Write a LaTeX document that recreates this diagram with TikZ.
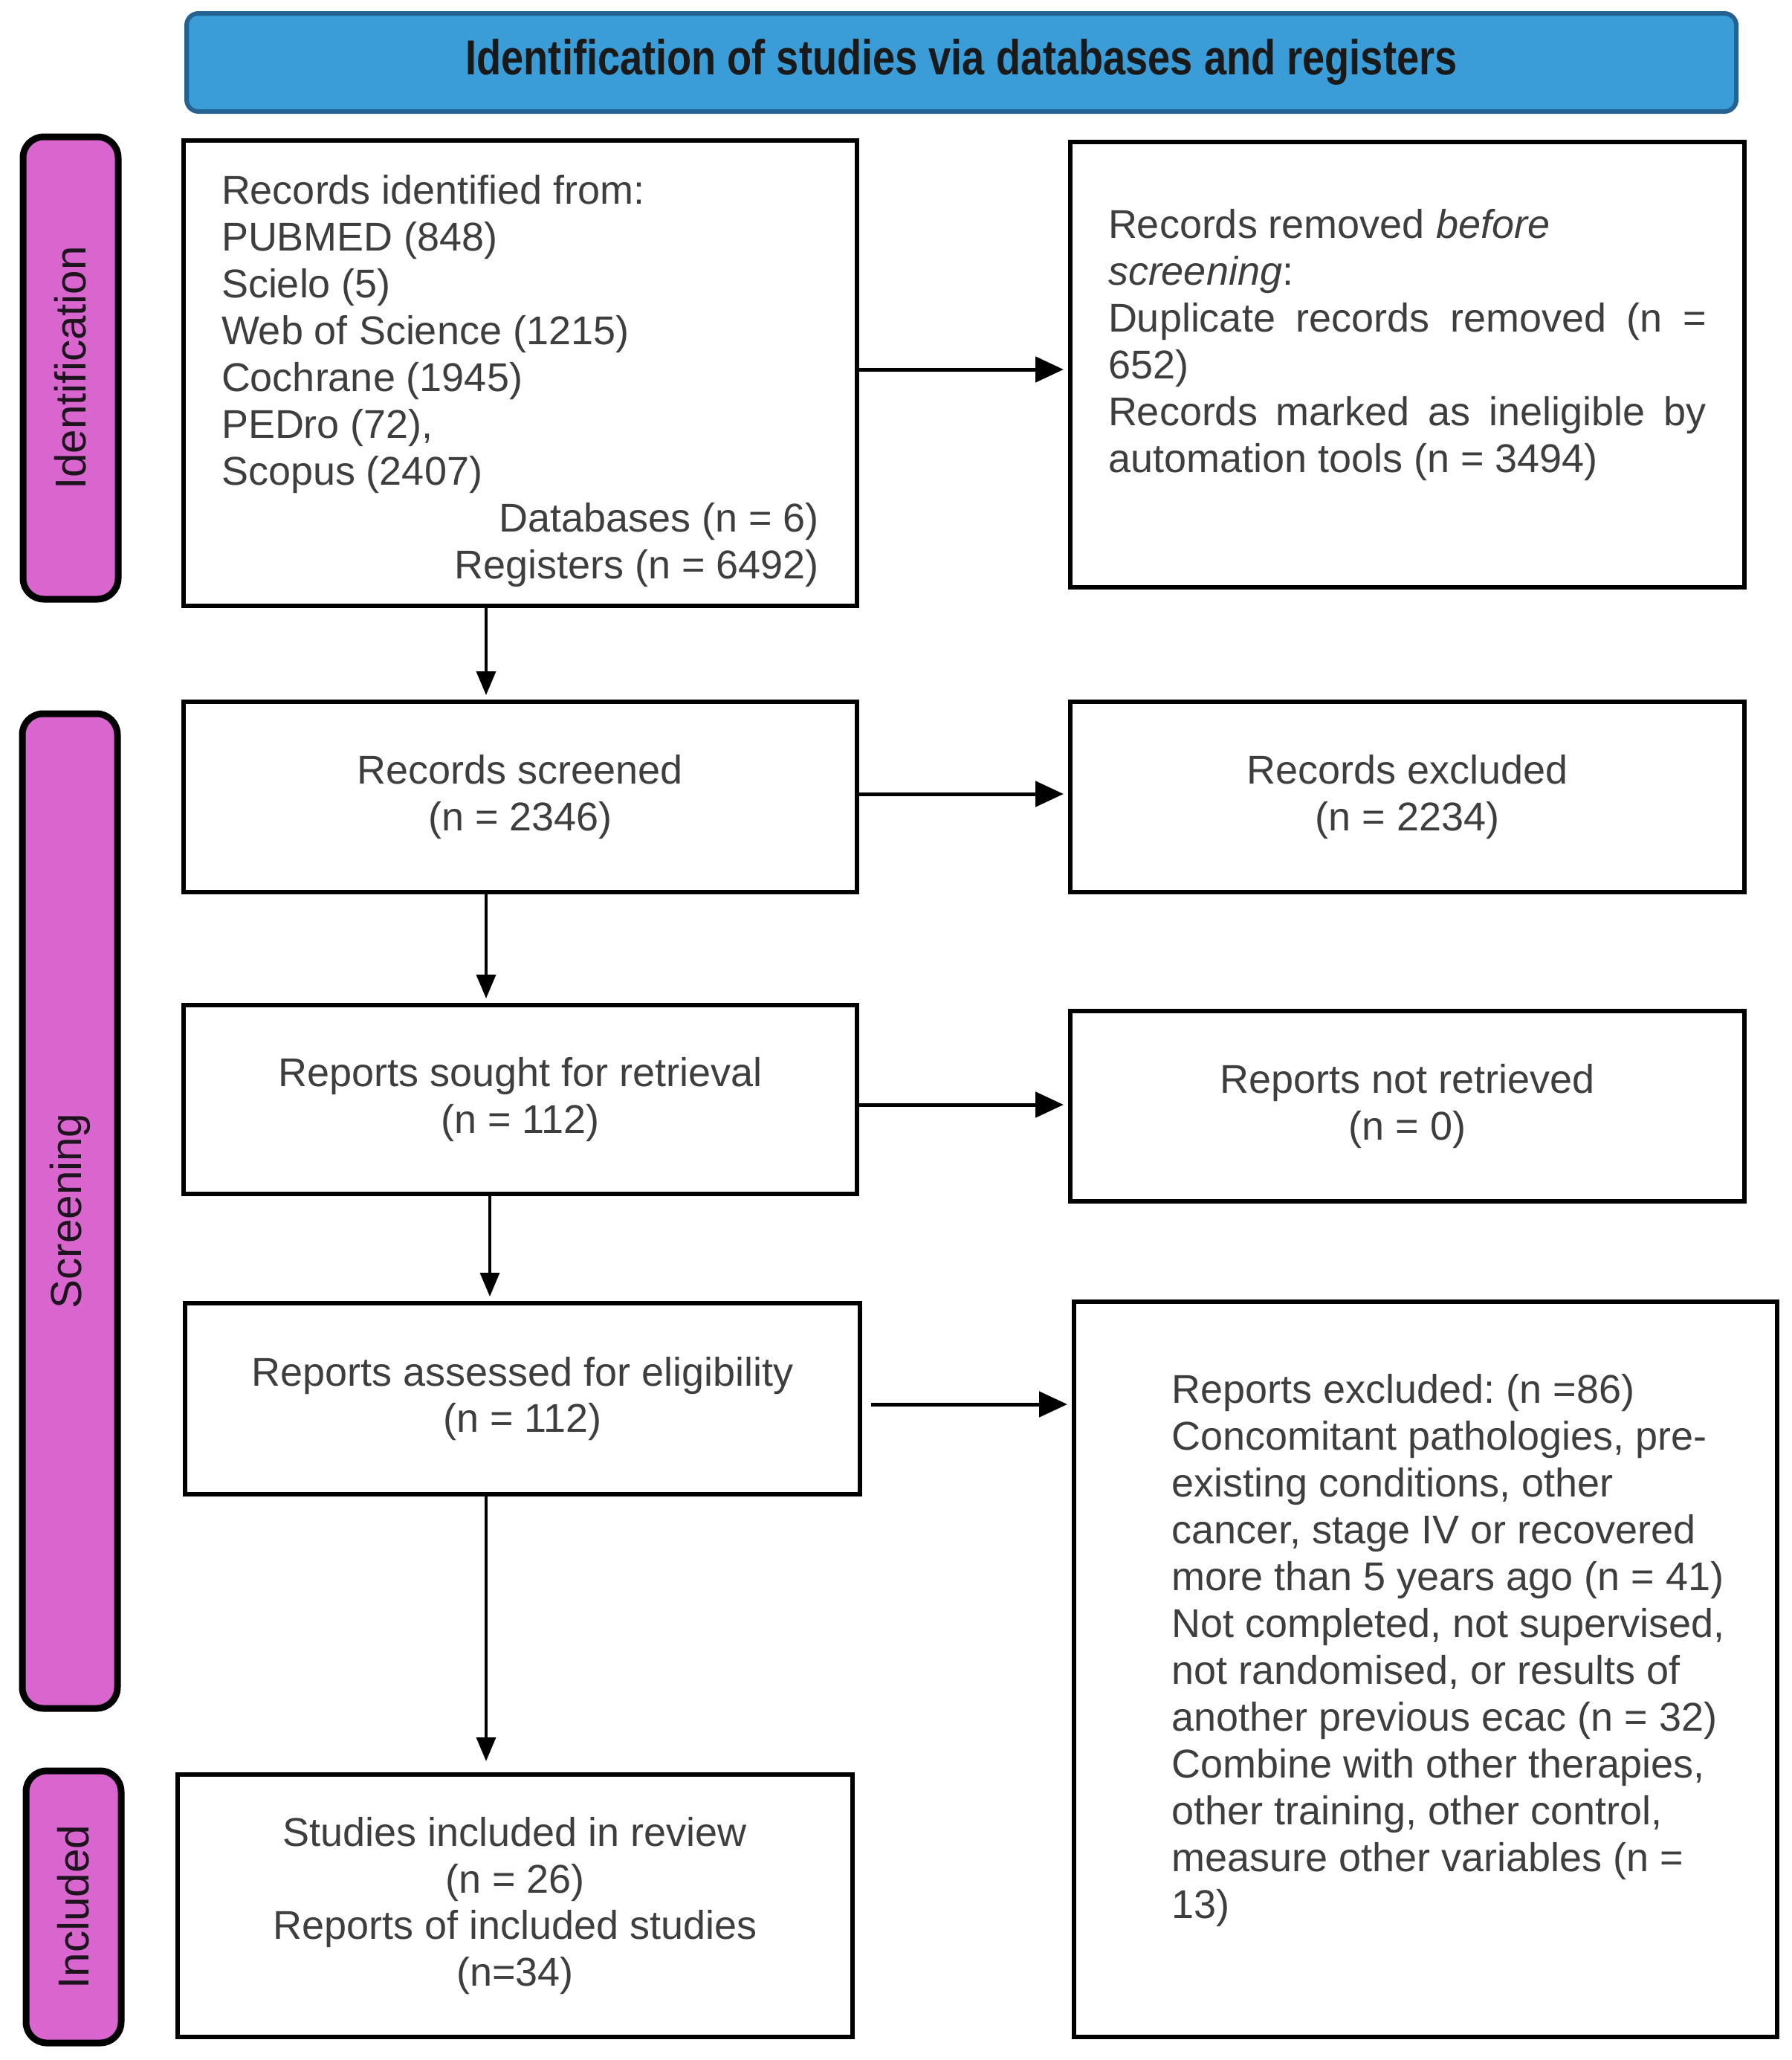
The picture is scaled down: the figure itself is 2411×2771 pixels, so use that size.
\documentclass[tikz,border=0pt]{standalone}
\usepackage{graphicx}
\usepackage{fontspec}
\setmainfont{Liberation Sans}
\usetikzlibrary{arrows.meta}
\definecolor{labfill}{RGB}{216,102,206}
\definecolor{barfill}{RGB}{58,157,215}
\definecolor{bardraw}{RGB}{38,98,145}
\definecolor{txtgray}{RGB}{62,62,62}
\definecolor{labtxt}{RGB}{30,20,30}
\newcommand\boxfont{\fontsize{15.36pt}{17.9pt}\selectfont}
\newcommand\labfont{\fontsize{16.6pt}{20pt}\selectfont}
\newcommand\titfont{\fontsize{18.8pt}{22pt}\selectfont\bfseries}
\newcommand\natsp{\spaceskip=0pt\xspaceskip=0pt\frenchspacing\relax}
\begin{document}
\begin{tikzpicture}[x=0.1mm,y=-0.1mm,
 box/.style={draw=black, line width=0.6mm, fill=white, inner sep=0pt, text=txtgray, font=\boxfont, align=center, minimum width=90.6mm},
 lab/.style={draw=black, line width=0.9mm, fill=labfill, rounded corners=2.8mm, rotate=90, inner sep=0pt, text=labtxt, font=\labfont, minimum height=12.8mm},
 bar/.style={draw=bardraw, line width=0.6mm, fill=barfill, rounded corners=1.6mm, inner sep=0pt, text=black!90, font=\titfont},
 harr/.style={line width=0.5mm, -{Triangle[length=3.8mm,width=3.4mm]}, shorten >=0.6mm},
 varr/.style={line width=0.35mm, -{Triangle[length=3.2mm,width=2.6mm]}, shorten >=0.6mm},
]
\fill[white] (0,0) rectangle (2411,2771);
\useasboundingbox (0,0) rectangle (2411,2771);

% title bar
\node[bar, minimum width=208.5mm, minimum height=13.2mm] (title) at (1293.5,84)
  {\scalebox{0.82}[1]{Identification of studies via databases and registers}};

% side labels
\node[lab, minimum width=62.2mm] (lid) at (95,495) {Identification};
\node[lab, minimum width=133.8mm] (lscr) at (94,1629) {Screening};
\node[lab, minimum width=36.6mm] (linc) at (99,2565) {Included};

% left column
\node[box, minimum height=62.6mm, text width=80.4mm, align=left] (recid) at (700,502) {\natsp
\rule{0pt}{6mm}Records identified from:\\
PUBMED (848)\\
Scielo (5)\\
Web of Science (1215)\\
Cochrane (1945)\\
PEDro (72),\\
Scopus (2407)\\
\makebox[80.4mm][r]{Databases (n = 6)}\\
\makebox[80.4mm][r]{Registers (n = 6492)}};

\node[box, minimum height=25.6mm] (screened) at (700,1072) {\natsp Records screened\\(n = 2346)};
\node[box, minimum height=25.4mm] (sought) at (700,1479) {\natsp Reports sought for retrieval\\(n = 112)};
\node[box, minimum width=90.8mm, minimum height=25.7mm] (assessed) at (703,1881.5) {\natsp Reports assessed for eligibility\\(n = 112)};
\node[box, minimum width=90.8mm, minimum height=35.3mm] (included) at (693,2563.5) {\natsp Studies included in review\\(n = 26)\\Reports of included studies\\(n=34)};

% right column
\node[box, minimum width=90.7mm, minimum height=59.9mm, text width=80.5mm, align=left] (removed) at (1893.5,490) {\natsp
Records removed \textit{before}\\
\textit{screening}:\\
\makebox[80.5mm][s]{Duplicate\hfill records\hfill removed\hfill (n\hfill =}\\
652)\\
\makebox[80.5mm][s]{Records\hfill marked\hfill as\hfill ineligible\hfill by}\\
automation tools (n = 3494)\\
\mbox{}};
\node[box, minimum width=90.7mm, minimum height=25.6mm] (excluded) at (1893.5,1072) {\natsp Records excluded\\(n = 2234)};
\node[box, minimum width=90.7mm, minimum height=25.6mm] (notretr) at (1893.5,1488) {\natsp Reports not retrieved\\(n = 0)};
\node[box, minimum width=94.6mm, minimum height=98.9mm] (excl2) at (1918,2245.5) {};
\node[anchor=west, inner sep=0pt, text width=77mm, align=left, text=txtgray, font=\boxfont] (excltxt) at (1576,2220) {\natsp
Reports excluded: (n =86)\\
Concomitant pathologies, pre-\\
existing conditions, other\\
cancer, stage IV or recovered\\
more than 5 years ago (n = 41)\\
Not completed, not supervised,\\
not randomised, or results of\\
another previous ecac (n = 32)\\
Combine with other therapies,\\
other training, other control,\\
measure other variables (n =\\
13)};

% arrow guide coordinates
\coordinate (v1) at (654,0);
\coordinate (v2) at (659,0);
\coordinate (h1) at (0,497);
\coordinate (h2) at (0,1068);
\coordinate (h3) at (0,1486);
\coordinate (h4) at (0,1889);

\draw[harr] (recid.east |- h1) -- (removed.west |- h1);
\draw[varr] (recid.south -| v1) -- (screened.north -| v1);
\draw[harr] (screened.east |- h2) -- (excluded.west |- h2);
\draw[varr] (screened.south -| v1) -- (sought.north -| v1);
\draw[harr] (sought.east |- h3) -- (notretr.west |- h3);
\draw[varr] (sought.south -| v2) -- (assessed.north -| v2);
\draw[harr, shorten <=1.2mm] (assessed.east |- h4) -- (excl2.west |- h4);
\draw[varr, shorten >=1.5mm] (assessed.south -| v1) -- (included.north -| v1);
\end{tikzpicture}
\end{document}
